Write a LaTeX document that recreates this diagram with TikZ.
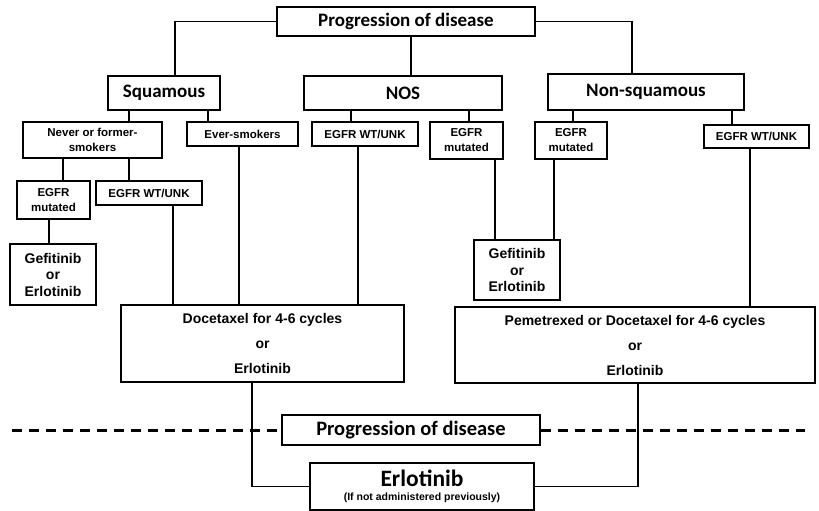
\documentclass[tikz,border=0pt]{standalone}
\usepackage{fontspec}
\setmainfont{Liberation Sans}
\newfontfamily\headfont{Carlito}
\begin{document}
\begin{tikzpicture}[x=1pt,y=-1pt,line width=1.1pt,
    headbox/.style={draw,inner sep=0pt,align=center,font=\headfont\bfseries\fontsize{19}{21}\selectfont},
    smallbox/.style={draw,inner sep=0pt,align=center,font=\bfseries\fontsize{11.5}{15}\selectfont},
    drugbox/.style={draw,inner sep=0pt,align=center,font=\bfseries\fontsize{14}{16.5}\selectfont},
    therapybox/.style={draw,inner sep=0pt,align=center,font=\bfseries\fontsize{14}{25}\selectfont}]
    \useasboundingbox (0,0) rectangle (819,511);
    % first level
    \node[headbox,minimum width=258,minimum height=29] (prog1) at (406,21.5) {Progression of disease};
    \node[headbox,minimum width=112,minimum height=34] (sq) at (164,93) {Squamous};
    \node[headbox,minimum width=198,minimum height=34] (nos) at (403,93) {NOS};
    \node[headbox,minimum width=196,minimum height=36] (nonsq) at (646,92) {Non-squamous};
    \draw (prog1.west) -| ([xshift=11pt]sq.north);
    \draw ([xshift=5pt]prog1.south) -- ([xshift=5pt]prog1.south |- nos.north);
    \draw (prog1.east) -| ([xshift=-14pt]nonsq.north);
    % second level
    \node[smallbox,minimum width=139,minimum height=36] (never) at (92.5,140) {Never or former-\\smokers};
    \node[smallbox,minimum width=111,minimum height=24] (ever) at (242.5,134) {Ever-smokers};
    \node[smallbox,minimum width=106,minimum height=24] (noswt) at (365,134) {EGFR WT/UNK};
    \node[smallbox,minimum width=73,minimum height=37] (nosmut) at (466.5,140.5) {EGFR\\mutated};
    \node[smallbox,minimum width=72,minimum height=37] (nsqmut) at (571,140.5) {EGFR\\mutated};
    \node[smallbox,minimum width=105,minimum height=23] (nsqwt) at (756.5,136.5) {EGFR WT/UNK};
    \draw ([xshift=36.5pt]never.north) -- ([xshift=36.5pt]never.north |- sq.south);
    \draw ([xshift=-34.5pt]ever.north) -- ([xshift=-34.5pt]ever.north |- sq.south);
    \draw ([xshift=-14pt]noswt.north) -- ([xshift=-14pt]noswt.north |- nos.south);
    \draw ([xshift=2.5pt]nosmut.north) -- ([xshift=2.5pt]nosmut.north |- nos.south);
    \draw ([xshift=2pt]nsqmut.north) -- ([xshift=2pt]nsqmut.north |- nonsq.south);
    \draw ([xshift=-24.5pt]nsqwt.north) -- ([xshift=-24.5pt]nsqwt.north |- nonsq.south);
    % third level
    \node[smallbox,minimum width=73,minimum height=38] (sqmut) at (53.5,200) {EGFR\\mutated};
    \node[smallbox,minimum width=106,minimum height=24] (sqwt) at (149,193) {EGFR WT/UNK};
    \draw ([xshift=9.5pt]sqmut.north) -- ([xshift=9.5pt]sqmut.north |- never.south);
    \draw ([xshift=-20pt]sqwt.north) -- ([xshift=-20pt]sqwt.north |- never.south);
    % treatment
    \node[drugbox,minimum width=86,minimum height=61] (gefL) at (53,274.5) {Gefitinib\\or\\Erlotinib};
    \node[drugbox,minimum width=86,minimum height=60] (gefR) at (517,270) {Gefitinib\\or\\Erlotinib};
    \node[therapybox,minimum width=283,minimum height=77] (doce) at (262.5,343.5) {Docetaxel for 4-6 cycles\\or\\Erlotinib};
    \node[therapybox,minimum width=360,minimum height=76] (peme) at (635,345) {Pemetrexed or Docetaxel for 4-6 cycles\\or\\Erlotinib};
    \draw ([xshift=-4pt]gefL.north) -- ([xshift=-4pt]gefL.north |- sqmut.south);
    \draw ([xshift=24pt]sqwt.south) -- ([xshift=24pt]sqwt.south |- doce.north);
    \draw ([xshift=-3.5pt]ever.south) -- ([xshift=-3.5pt]ever.south |- doce.north);
    \draw ([xshift=-7pt]noswt.south) -- ([xshift=-7pt]noswt.south |- doce.north);
    \draw ([xshift=28.5pt]nosmut.south) -- ([xshift=28.5pt]nosmut.south |- gefR.north);
    \draw ([xshift=-17pt]nsqmut.south) -- ([xshift=-17pt]nsqmut.south |- gefR.north);
    \draw ([xshift=-6.5pt]nsqwt.south) -- ([xshift=-6.5pt]nsqwt.south |- peme.north);
    % second progression
    \node[headbox,font=\headfont\bfseries\fontsize{20.5}{22}\selectfont,minimum width=258,minimum height=30,fill=white] (prog2) at (411,430) {Progression of disease};
    \coordinate (dashL) at (12,430);
    \coordinate (dashR) at (805,430);
    \draw[line width=3pt,dash pattern=on 10pt off 7pt] (dashL) -- (prog2.west);
    \draw[line width=3pt,dash pattern=on 10pt off 7pt] (prog2.east) -- (dashR);
    \node[draw,inner sep=0pt,align=center,minimum width=224,minimum height=47] (erl) at (422,486.5)
        {{\headfont\bfseries\fontsize{23.5}{24}\selectfont Erlotinib}\\[2pt]{\bfseries\fontsize{10.5}{11}\selectfont (If not administered previously)}};
    \draw ([xshift=-10.5pt]doce.south) |- (erl.west);
    \draw ([xshift=3pt]peme.south) |- (erl.east);
\end{tikzpicture}
\end{document}
